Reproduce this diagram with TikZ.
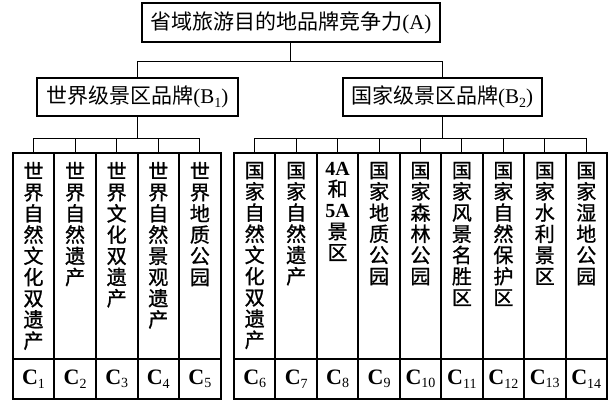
\documentclass[tikz,border=0pt]{standalone}
\usepackage{fontspec}
\setmainfont{Liberation Serif}
\newfontfamily\cjk{Noto Sans CJK SC}
\newfontfamily\cjkcol[FakeBold=1]{Noto Sans CJK SC}
\newcommand\subidx[1]{\raisebox{-3.5pt}{\fontsize{14}{14}\selectfont\mdseries #1}}
\begin{document}
\begin{tikzpicture}[x=1pt,y=-1pt,
  box/.style={draw,line width=2.2pt,inner sep=0pt,font=\fontsize{21}{24}\selectfont},
  conn/.style={line width=0.9pt},
  cell/.style={draw,line width=2pt,minimum height=206.3pt,inner sep=0pt,anchor=north},
  labcell/.style={draw,line width=2pt,minimum height=40pt,inner sep=0pt,anchor=north,font=\bfseries\fontsize{22}{22}\selectfont},
  vtxt/.style={anchor=north,inner sep=0pt,align=center,font=\cjkcol\fontsize{20}{21.2}\selectfont}]
\useasboundingbox[fill=white] (0,0) rectangle (614,401);

\node[box,minimum width=298.3pt,minimum height=38.4pt] (A) at (290.85,22.5) {{\cjk 省域旅游目的地品牌竞争力}(A)};
\node[box,minimum width=201.3pt,minimum height=38pt] (B1) at (137.35,97) {{\cjk 世界级景区品牌}(B\subidx{1})};
\node[box,minimum width=199pt,minimum height=38pt] (B2) at (442.2,97) {{\cjk 国家级景区品牌}(B\subidx{2})};

\draw[conn] (A.south) -- ++(0,19) -| (B1.north);
\draw[conn] (A.south) -- ++(0,19) -| (B2.north);

\foreach \i/\x/\t in {
  1/33.5/{世\\界\\自\\然\\文\\化\\双\\遗\\产},
  2/75.1/{世\\界\\自\\然\\遗\\产},
  3/116.7/{世\\界\\文\\化\\双\\遗\\产},
  4/158.3/{世\\界\\自\\然\\景\\观\\遗\\产},
  5/199.9/{世\\界\\地\\质\\公\\园}}{
  \node[cell,minimum width=41.6pt] (t\i) at (\x,151.7) {};
  \node[vtxt] (v\i) at (\x,161.7) {\t};
  \node[labcell,minimum width=41.6pt] (c\i) at (\x,358) {C\subidx{\i}};
  \draw[conn] (B1.south) -- ++(0,21.3) -| (t\i.north);
}

\foreach \i/\x/\t in {
  6/254.7/{国\\家\\自\\然\\文\\化\\双\\遗\\产},
  7/296.2/{国\\家\\自\\然\\遗\\产},
  8/337.6/{{\rmfamily\bfseries 4A}\\和\\{\rmfamily\bfseries 5A}\\景\\区},
  9/379.1/{国\\家\\地\\质\\公\\园},
  10/420.5/{国\\家\\森\\林\\公\\园},
  11/461.9/{国\\家\\风\\景\\名\\胜\\区},
  12/503.4/{国\\家\\自\\然\\保\\护\\区},
  13/544.8/{国\\家\\水\\利\\景\\区},
  14/586.3/{国\\家\\湿\\地\\公\\园}}{
  \node[cell,minimum width=41.44pt] (t\i) at (\x,151.7) {};
  \node[vtxt] (v\i) at (\x,161.7) {\t};
  \node[labcell,minimum width=41.44pt] (c\i) at (\x,358) {C\subidx{\i}};
  \draw[conn] (B2.south) -- ++(0,21.3) -| (t\i.north);
}
\end{tikzpicture}
\end{document}
